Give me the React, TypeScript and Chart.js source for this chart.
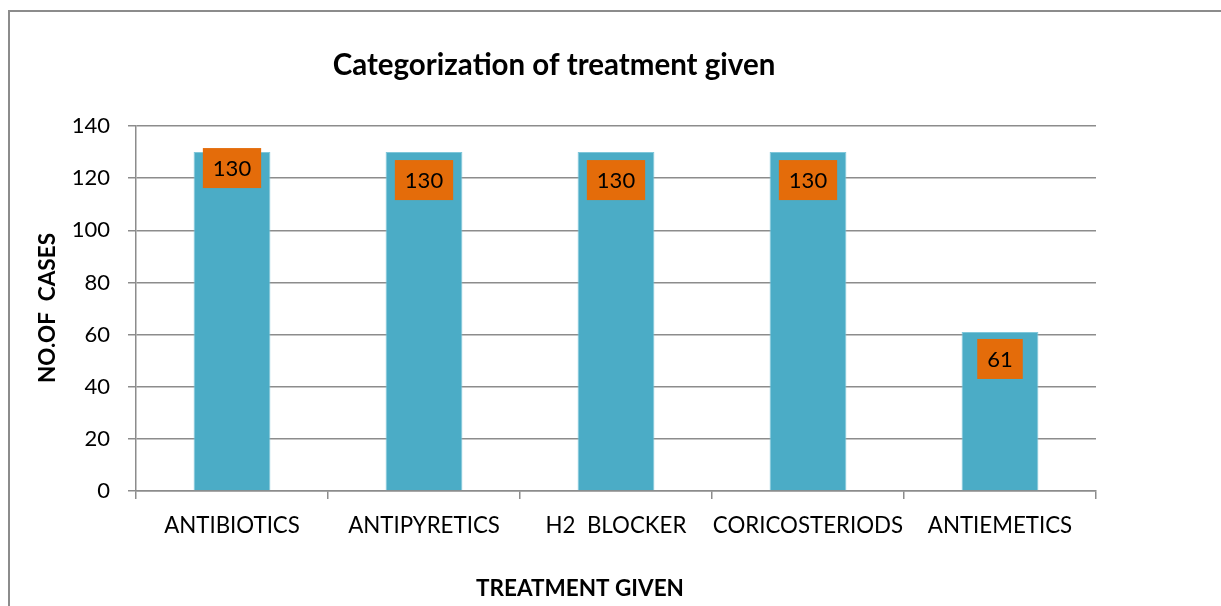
import React, { useEffect, useRef } from "react";
import { Chart, registerables } from "chart.js";

Chart.register(...registerables);

const categories = ["ANTIBIOTICS", "ANTIPYRETICS", "H2  BLOCKER", "CORICOSTERIODS", "ANTIEMETICS"];
const cases = [130, 130, 130, 130, 61];
const yTicks = [0, 20, 40, 60, 80, 100, 120, 140];
const labelOffsets = [-4, 8, 8, 8, 7];

const chartTitle = "Categorization of treatment given";
const xTitle = "TREATMENT GIVEN";
const yTitle = "NO.OF  CASES";

const FONT = "Lato, 'Open Sans', sans-serif";
const GRID = "#8c8c8c";

const textPlugin = {
  id: "texts",
  afterDraw(chart: any) {
    const ctx = chart.ctx;
    ctx.save();
    ctx.fillStyle = "#000";
    ctx.textAlign = "center";
    ctx.textBaseline = "alphabetic";
    ctx.font = `bold 29.5px ${FONT}`;
    ctx.fillText(chartTitle, 554, 75);
    ctx.font = `bold 22.5px ${FONT}`;
    ctx.fillText(xTitle, 580, 596);
    ctx.translate(55, 308);
    ctx.rotate(-Math.PI / 2);
    ctx.fillText(yTitle, 0, 0);
    ctx.restore();
  },
};

const labelPlugin = {
  id: "barLabels",
  afterDatasetsDraw(chart: any) {
    const ctx = chart.ctx;
    const meta = chart.getDatasetMeta(0);
    ctx.save();
    ctx.font = `22px ${FONT}`;
    ctx.textAlign = "center";
    ctx.textBaseline = "middle";
    meta.data.forEach((bar: any, i: number) => {
      const txt = String(cases[i]);
      const w = ctx.measureText(txt).width + 20;
      const h = 40;
      const top = bar.y + labelOffsets[i];
      ctx.fillStyle = "#E46C0A";
      ctx.fillRect(bar.x - w / 2, top, w, h);
      ctx.fillStyle = "#000";
      ctx.fillText(txt, bar.x, top + h / 2 + 1);
    });
    ctx.restore();
  },
};

export default function App() {
  const ref = useRef<HTMLCanvasElement>(null);
  useEffect(() => {
    const chart = new Chart(ref.current!, {
      type: "bar",
      data: {
        labels: categories,
        datasets: [
          {
            data: cases,
            backgroundColor: "#4BACC6",
            borderColor: "#7fc7da",
            borderWidth: 1,
            barPercentage: 0.4,
            categoryPercentage: 1,
          },
        ],
      },
      options: {
        responsive: false,
        animation: false,
        devicePixelRatio: 1,
        layout: { padding: { left: 0, top: 126, right: 125, bottom: 0 } },
        plugins: { legend: { display: false }, tooltip: { enabled: false }, title: { display: false } },
        scales: {
          x: {
            afterFit(scale: any) {
              scale.height = 115;
            },
            grid: { drawOnChartArea: false, color: GRID, lineWidth: 1.5, tickLength: 8, offset: true },
            border: { display: true, color: GRID, width: 1.5 },
            ticks: { color: "#000", font: { family: FONT, size: 22.3 }, padding: 13, maxRotation: 0, minRotation: 0, autoSkip: false },
          },
          y: {
            min: 0,
            max: 140,
            afterFit(scale: any) {
              scale.width = 136;
            },
            afterBuildTicks(scale: any) {
              scale.ticks = yTicks.map((v) => ({ value: v }));
            },
            grid: { color: GRID, lineWidth: 1.5, tickLength: 8 },
            border: { display: true, color: GRID, width: 1.5 },
            ticks: { color: "#000", font: { family: FONT, size: 22 }, padding: 18 },
          },
        },
      },
      plugins: [labelPlugin, textPlugin],
    });
    return () => chart.destroy();
  }, []);

  return (
    <div style={{ position: "absolute", left: 0, top: 0, width: 1221, height: 606, overflow: "hidden", background: "#fff" }}>
      <div
        style={{
          position: "absolute",
          left: 8,
          top: 10,
          width: 1400,
          height: 800,
          borderLeft: "2px solid #8c8c8c",
          borderTop: "2px solid #8c8c8c",
        }}
      />
      <canvas ref={ref} width={1221} height={606} style={{ position: "absolute", left: 0, top: 0 }} />
    </div>
  );
}
